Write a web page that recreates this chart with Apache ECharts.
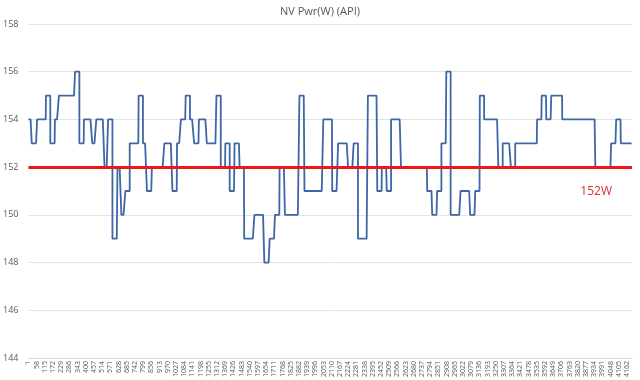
<!DOCTYPE html>
<html>
<head>
<meta charset="utf-8">
<script src="https://cdn.jsdelivr.net/npm/echarts@6/dist/echarts.min.js"></script>
<style>html,body{margin:0;padding:0;background:#fff}#c{width:640px;height:380px}</style>
</head>
<body>
<div id="c"></div>
<script>
// Sample count and step-change data
var sampleCount = 4197;
// sample number where each level starts
var stepStarts = [1,24,61,123,153,185,213,325,355,387,445,473,530,555,585,620,647,675,705,767,797,825,859,946,1002,1034,1061,1094,1124,1153,1186,1241,1308,1338,1370,1400,1434,1469,1501,1572,1641,1678,1715,1747,1784,1885,1920,2051,2113,2154,2223,2262,2292,2361,2426,2458,2492,2522,2591,2773,2808,2842,2872,2906,2936,3005,3072,3107,3139,3169,3268,3298,3355,3385,3537,3569,3601,3636,3712,3942,4052,4087,4119];
// power level (W) of each step
var stepLevels = [154,153,154,155,153,154,155,156,153,154,153,154,152,154,149,152,150,151,153,155,153,151,152,153,151,153,154,155,154,153,154,153,155,152,153,151,153,152,149,150,148,149,150,152,150,155,151,154,151,153,152,153,149,155,151,152,151,154,152,151,150,151,153,156,150,151,150,151,155,154,152,153,152,153,154,155,154,155,154,152,153,154,153];
var refValue = 152;
var refLabel = '152W';
var yTicks = {min:144, max:158, step:2};
var titleText = 'NV Pwr(W) (API)';

var categories = [];
var values = [];
var k = 0;
for (var s = 1; s <= sampleCount; s++) {
  while (k + 1 < stepStarts.length && s >= stepStarts[k + 1]) k++;
  categories.push(String(s));
  values.push(stepLevels[k]);
}

var chart = echarts.init(document.getElementById('c'), null, {renderer:'canvas'});
var font = '"Open Sans", "Noto Sans", sans-serif';
chart.setOption({
  animation: false,
  backgroundColor: '#ffffff',
  title: {
    text: titleText, left: 'center', top: 1,
    textStyle: {fontSize: 11, fontWeight: 'normal', color: '#595959', fontFamily: font}
  },
  grid: {left: 24, right: 8, top: 24, bottom: 20, containLabel: false},
  xAxis: {
    type: 'category', data: categories, boundaryGap: false,
    axisLine: {show: true, lineStyle: {color: '#d9d9d9', width: 1}},
    axisTick: {show: false},
    axisLabel: {interval: 56, rotate: 90, fontSize: 7, color: '#595959', fontFamily: font, margin: 3},
    splitLine: {show: false}
  },
  yAxis: {
    type: 'value', min: yTicks.min, max: yTicks.max, interval: yTicks.step,
    axisLine: {show: false}, axisTick: {show: false},
    axisLabel: {fontSize: 9, color: '#595959', fontFamily: font, margin: 10},
    splitLine: {lineStyle: {color: '#e3e3e3', width: 1}}
  },
  series: [{
    type: 'line', data: values, step: 'end', showSymbol: false, symbol: 'none',
    sampling: null, smooth: false,
    lineStyle: {color: '#3f66a6', width: 1.8},
    markLine: {
      silent: true, symbol: 'none', animation: false,
      lineStyle: {color: '#e8191b', width: 3, type: 'solid'},
      label: {
        show: true, formatter: refLabel, position: 'insideEndBottom',
        distance: [20, 18], color: '#d7302b', fontSize: 12, fontFamily: font
      },
      data: [{yAxis: refValue}]
    }
  }]
});
</script>
</body>
</html>
